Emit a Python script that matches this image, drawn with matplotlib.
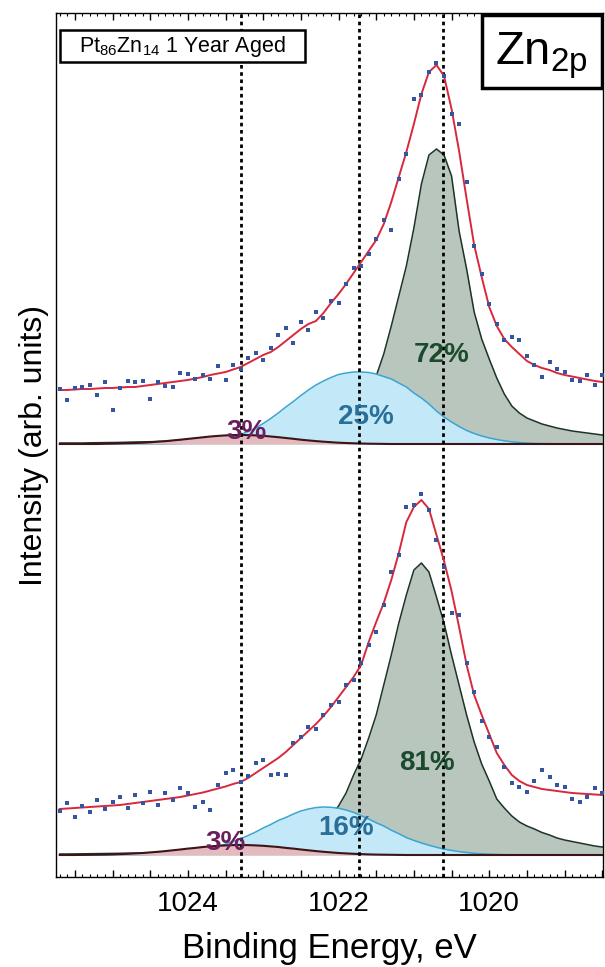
import matplotlib
matplotlib.use("Agg")
import matplotlib.pyplot as plt
from matplotlib.patches import Rectangle
from matplotlib.ticker import MultipleLocator, FuncFormatter

plt.rcParams.update({
    "font.family": "Liberation Sans",
    "mathtext.fontset": "custom",
    "mathtext.rm": "Liberation Sans",
    "mathtext.it": "Liberation Sans:italic",
    "mathtext.bf": "Liberation Sans:bold",
})

# binding energy grid (eV), 1025.7 -> 1018.5 in 0.1 eV steps
energy = [round(1025.7 - 0.1 * i, 1) for i in range(73)]

# ---- 1 year aged (upper trace), heights above its own baseline ----
top_counts = [55, 44, 56, 57, 59, 49, 62, 34, 56, 63, 62, 63, 45, 62, 58, 57, 71, 70, 65, 69,
              65, 78, 64, 79, 75, 86, 91, 84, 96, 109, 116, 101, 122, 114, 132, 126, 143, 141,
              160, 176, 178, 190, 205, 224, 214, 265, 290, 345, 349, 372, 381, 368, 330, 320,
              262, 198, 170, 140, 120, 104, 107, 104, 88, 79, 67, 82, 75, 72, 64, 63, 69, 59, 69]
top_fit = [54, 54, 54.5, 55, 55, 55.5, 56, 56, 56.5, 57, 57, 58, 59, 60, 61, 62, 63, 64, 65.5,
           67, 69, 70.5, 72, 74.5, 77, 81, 85, 89, 92, 97, 103, 109, 115, 120, 123, 131, 141,
           150, 160, 171, 182, 193, 204, 220, 242, 267, 292, 320, 350, 372, 379, 368, 335, 293,
           245, 199, 167, 137, 118, 105, 97, 90, 83, 79, 76, 74, 71, 69, 67.5, 66, 64.5, 63, 62]
top_main = [1, 1, 1, 1, 1.2, 1.3, 1.4, 1.5, 1.6, 1.8, 2, 2.1, 2.3, 2.5, 2.7, 2.8, 3, 3, 3.5,
            4, 4, 4.5, 5, 5.5, 6, 6.5, 7, 8, 9, 10, 11, 12, 13, 14.5, 16, 18, 21, 24, 28, 34,
            42, 54, 68, 90, 118, 148, 178, 216, 260, 289, 295, 289, 268, 213, 175, 132, 105,
            85, 66, 50, 38, 31, 26, 23, 20, 18, 16, 14.5, 13, 12, 11, 10, 9]
top_mid = [0, 0, 0, 0, 0, 0, 0, 0, 0, 0, 0, 0, 0, 0, 0.2, 0.3, 0.5, 0.8, 1.2, 1.8, 2.6, 3.7, 5,
           7, 9.5, 12.5, 16, 20.5, 25.5, 31, 37, 42.5, 48.5, 54, 59, 63, 66.5, 69.5, 71, 72, 72,
           71.5, 70, 67.5, 65, 61, 57, 51, 46, 40, 33, 27, 22, 17.5, 13.5, 10.5, 8, 6, 4.5, 3.2,
           2.2, 1.5, 1, 0.6, 0.4, 0.3, 0.2, 0.1, 0, 0, 0, 0, 0]
top_low = [0, 0, 0, 0, 0, 0, 0.3, 0.4, 0.6, 0.8, 1.0, 1.3, 1.7, 2.3, 2.8, 3.6, 4.3, 5.1, 5.9,
           6.7, 7.5, 8.1, 8.6, 8.9, 9, 8.9, 8.6, 8.2, 7.5, 6.8, 6, 5.2, 4.3, 3.6, 2.9, 2.3, 1.8,
           1.3, 1.0, 0.7, 0.5, 0.3, 0.2, 0.1, 0, 0, 0, 0, 0, 0, 0, 0, 0, 0, 0, 0, 0, 0, 0, 0, 0,
           0, 0, 0, 0, 0, 0, 0, 0, 0, 0, 0, 0]

# ---- lower trace ----
bot_counts = [44, 52, 38, 49, 43, 55, 46, 53, 58, 47, 60, 52, 63, 50, 62, 55, 67, 62, 48, 53,
              45, 70, 82, 85, 73, 79, 92, 95, 80, 81, 80, 112, 118, 128, 126, 140, 150, 153,
              170, 175, 192, 210, 223, 250, 283, 300, 348, 350, 361, 345, 315, 288, 242, 240,
              192, 163, 134, 118, 108, 88, 72, 68, 63, 74, 85, 78, 70, 68, 56, 53, 58, 67, 62]
bot_fit = [46, 46.5, 47, 47.5, 48, 48.5, 49, 49.5, 50, 51, 52, 53, 54, 55, 56, 57, 58, 59.5, 61,
           62.5, 64.5, 66.5, 68.5, 71, 73, 77, 82, 87, 92, 97, 103, 110, 117, 124, 131, 139,
           148, 158, 168, 178, 190, 213, 233, 252, 275, 302, 333, 348, 355, 346, 320, 294, 264,
           228, 190, 160, 140, 121, 102, 90, 80, 74, 70, 68, 66, 65, 64, 63, 62, 61.5, 61,
           60.5, 60]
bot_main = [1, 1, 1.1, 1.2, 1.3, 1.4, 1.5, 1.6, 1.7, 1.8, 1.9, 2, 2.1, 2.2, 2.3, 2.4, 2.7, 3,
            3.5, 4, 4.5, 5, 6, 7, 8, 9, 10.5, 12, 13.5, 15, 17, 20, 22.5, 26, 30, 34, 40, 49, 62,
            80, 96, 117, 140, 170, 200, 232, 260, 285, 292, 283, 258, 232, 200, 170, 140, 113,
            91, 74, 56, 47, 39, 33, 29, 26, 22.5, 20, 17, 15, 13.5, 12, 10.5, 9, 8]
bot_mid = [0, 0, 0, 0, 0, 0, 0, 0, 0.1, 0.2, 0.2, 0.3, 0.5, 0.7, 1.0, 1.5, 2.1, 2.9, 3.9, 5.2,
           6.7, 8.7, 10.8, 13.5, 16.3, 19.5, 23, 27, 30.5, 34.5, 37.5, 41, 44, 46, 47.4, 48,
           47.7, 46.8, 45, 42.6, 39.3, 36, 32.2, 29, 24.8, 21.3, 17.4, 14.6, 12, 9.8, 7.7, 5.9,
           4.6, 3.4, 2.5, 1.7, 1.2, 0.8, 0.5, 0.3, 0.2, 0.1, 0, 0, 0, 0, 0, 0, 0, 0, 0, 0, 0]
bot_low = [0, 0, 0, 0.1, 0.2, 0.3, 0.4, 0.6, 0.9, 1.2, 1.6, 2, 2.6, 3.2, 3.9, 4.7, 5.5, 6.4,
           7.1, 8, 8.6, 9.2, 9.6, 9.9, 10, 9.9, 9.6, 9.2, 8.6, 8, 7.1, 6.4, 5.5, 4.7, 3.9, 3.2,
           2.6, 2, 1.6, 1.2, 0.9, 0.6, 0.4, 0.3, 0.2, 0.1, 0, 0, 0, 0, 0, 0, 0, 0, 0, 0, 0, 0,
           0, 0, 0, 0, 0, 0, 0, 0, 0, 0, 0, 0, 0, 0, 0]

ref_lines = [1023.3, 1021.73, 1020.61]

MAIN_F, MAIN_E, MAIN_T = "#b9c6bd", "#1d3326", "#1b4a2e"
MID_F, MID_E, MID_T = "#c3e8f8", "#3aa5d2", "#2a6f98"
LOW_F, LOW_E, LOW_T = "#e3babe", "#3d1518", "#6a1f5c"
FIT_C, DOT_C = "#d8283c", "#34559f"

TOP_OFF, BOT_OFF = 433, 22

fig = plt.figure(figsize=(6.05, 9.67), dpi=100)
ax = fig.add_axes([56 / 605, 90 / 967, 547 / 605, 864 / 967])


def shift(vals, off):
    return [v + off for v in vals]


def trace(counts, fit, main, mid, low, off):
    base = [off] * len(energy)
    ax.fill_between(energy, base, shift(main, off), color=MAIN_F, lw=0, zorder=1)
    ax.plot(energy, shift(main, off), color=MAIN_E, lw=1.1, zorder=2)
    ax.fill_between(energy, base, shift(mid, off), color=MID_F, lw=0, zorder=3)
    ax.plot(energy, shift(mid, off), color=MID_E, lw=1.1, zorder=4)
    ax.fill_between(energy, base, shift(low, off), color=LOW_F, lw=0, zorder=5)
    ax.plot(energy, shift(low, off), color=LOW_E, lw=1.5, zorder=6)
    ax.plot(energy, shift(fit, off), color=FIT_C, lw=1.4, zorder=8)
    ax.plot(energy, shift(counts, off), "s", color=DOT_C, ms=2.2, mew=0, zorder=9)


trace(top_counts, top_fit, top_main, top_mid, top_low, TOP_OFF)
trace(bot_counts, bot_fit, bot_main, bot_mid, bot_low, BOT_OFF)

for e in ref_lines:
    ax.axvline(e, color="black", lw=2.0, ls=(0, (1.3, 1.3)), zorder=7)

pct = dict(fontsize=20, fontweight="bold", ha="center", va="center", zorder=10)
ax.text(1020.63, 522, "72%", color=MAIN_T, **pct)
ax.text(1021.64, 460, "25%", color=MID_T, **pct)
ax.text(1023.22, 445, "3%", color=LOW_T, **pct)
ax.text(1020.83, 114, "81%", color=MAIN_T, **pct)
ax.text(1021.90, 49, "16%", color=MID_T, **pct)
ax.text(1023.50, 34, "3%", color=LOW_T, **pct)

ax.set_xlim(1025.75, 1018.49)
ax.set_ylim(0, 864)
ax.set_yticks([])
ax.xaxis.set_major_locator(MultipleLocator(0.5))
ax.xaxis.set_minor_locator(MultipleLocator(0.1))
ax.xaxis.set_major_formatter(FuncFormatter(
    lambda v, p: f"{v:.0f}" if abs(v / 2 - round(v / 2)) < 1e-6 else ""))
ax.tick_params(axis="x", which="both", direction="in", top=True, labelsize=20, pad=10)
ax.tick_params(axis="x", which="major", length=5, width=1)
ax.tick_params(axis="x", which="minor", length=2.5, width=0.8)
for s in ax.spines.values():
    s.set_linewidth(1.0)

ax.set_xlabel("Binding Energy, eV", fontsize=25)
ax.xaxis.set_label_coords(0.5, -0.064)
ax.set_ylabel("Intensity (arb. units)", fontsize=23)
ax.yaxis.set_label_coords(-0.012, 0.5)

# sample tag, top left
ax.add_patch(Rectangle((0.0073, 0.943), 0.448, 0.037, transform=ax.transAxes,
             facecolor="white", edgecolor="black", lw=1.8, zorder=11))
ax.text(0.231, 0.9615, r"Pt$_{86}$Zn$_{14}$ 1 Year Aged", transform=ax.transAxes,
        fontsize=15.5, ha="center", va="center", zorder=12)

# core level tag, top right
ax.add_patch(Rectangle((0.779, 0.913), 0.219, 0.085, transform=ax.transAxes,
             facecolor="white", edgecolor="black", lw=2.5, zorder=11))
ax.text(0.887, 0.940, r"Zn$_{\mathrm{2p}}$", transform=ax.transAxes,
        fontsize=34, ha="center", va="baseline", zorder=12)

fig.savefig("out.png", dpi=100)
